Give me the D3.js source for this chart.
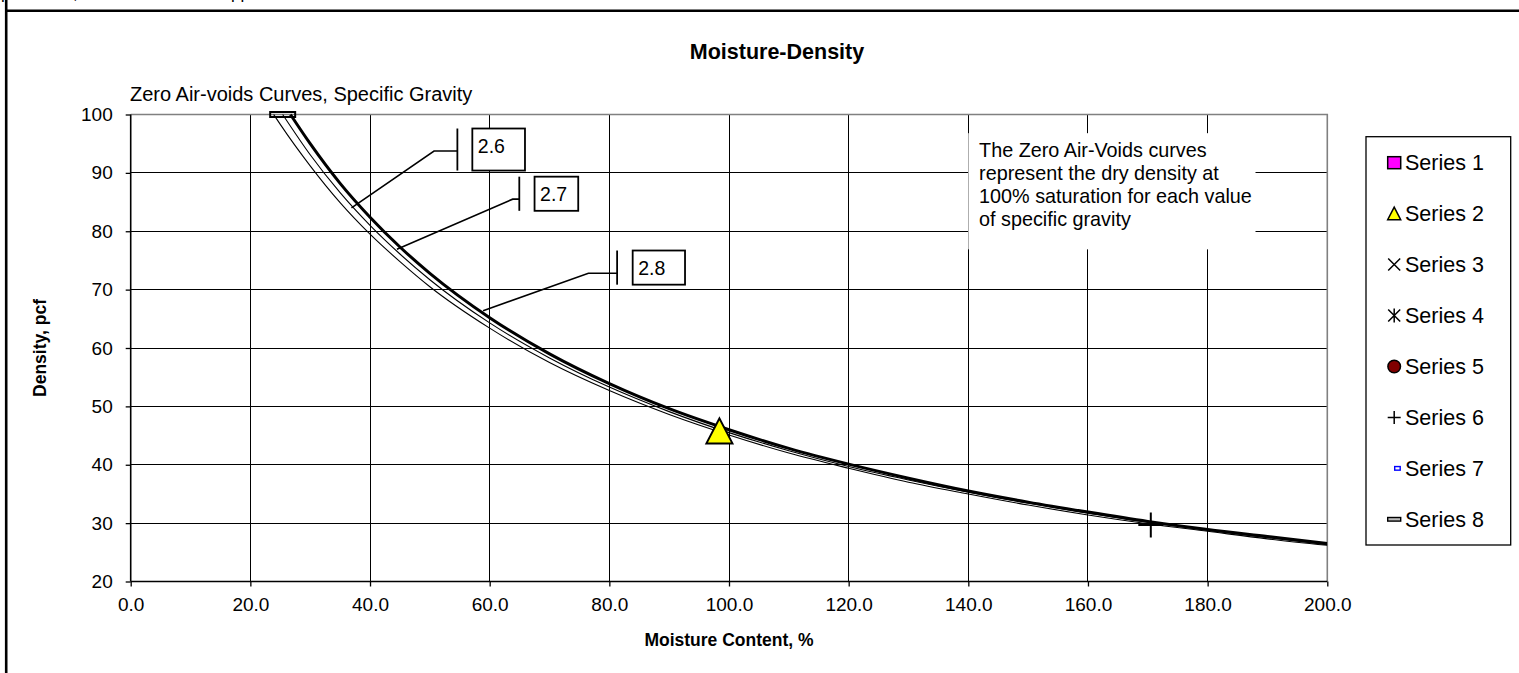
<!DOCTYPE html>
<html><head><meta charset="utf-8">
<script src="https://cdn.jsdelivr.net/npm/d3@7"></script>
<style>
body{margin:0;background:#fff;overflow:hidden}
svg{display:block}
text{font-family:"Liberation Sans",Arial,sans-serif;fill:#000}
</style>
</head><body>
<svg id="chart" width="1519" height="673"></svg>
<script>
// ---------- data ----------
const xTickValues = [0,20,40,60,80,100,120,140,160,180,200];
const yTickValues = [20,30,40,50,60,70,80,90,100];

const zavMoisture26 = [23.9,25,30,35,40,45,50,60,70,80,90,100,110,120,130,140,150,160,170,180,190,200];
const zavDensity26  = [100,98.3,91.2,84.9,79.5,74.8,70.5,63.4,57.5,52.7,48.6,45.1,42.0,39.4,37.0,35.0,33.1,31.4,29.9,28.6,27.3,26.2];
const zavMoisture27 = [25.4,30,35,40,45,50,60,70,80,90,100,110,120,130,140,150,160,170,180,190,200];
const zavDensity27  = [100,93.1,86.6,81.0,76.1,71.7,64.3,58.3,53.3,49.1,45.5,42.4,39.7,37.4,35.3,33.4,31.7,30.1,28.8,27.5,26.3];
const zavMoisture28 = [26.7,30,35,40,45,50,60,70,80,90,100,110,120,130,140,150,160,170,180,190,200];
const zavDensity28  = [100,95.0,88.2,82.4,77.3,72.8,65.2,59.0,53.9,49.6,46.0,42.8,40.1,37.7,35.5,33.6,31.9,30.3,28.9,27.7,26.5];

const series2Points = [[98.4,45.8]];   // triangle
const series6Points = [[170.5,29.7]];  // plus
const series8Points = [[25.4,100]];    // dash marker

const legendNames = ["Series 1","Series 2","Series 3","Series 4","Series 5","Series 6","Series 7","Series 8"];
const legendSymbols = ["square","triangle","x","star","circle","plus","smalldash","dash"];

const gravityLabels = ["2.6","2.7","2.8"];
// annotation geometry in data units: box [x0,x1,yTop,yBottom], bar x, elbow [x,y], target [x,y]
const gravityBoxes  = [[57.1,65.9,97.6,90.4],[67.5,74.8,89.35,83.5],[83.9,92.65,76.7,70.85]];
const gravityBars   = [54.6,64.95,81.3];
const gravityElbows = [[50.7,93.75],[63.85,85.5],[76.5,72.8]];
const gravityTargets= [[36.9,84.0],[44.5,76.9],[58.9,66.4]];

const noteLines = ["The Zero Air-Voids curves","represent the dry density at","100% saturation for each value","of specific gravity"];

// ---------- drawing ----------
const svg = d3.select("#chart");
svg.append("rect").attr("width",1519).attr("height",673).attr("fill","#fff");

// page fragments at top (text of the page above, cut by the frame)
const frag = svg.append("g").attr("font-size",17);
frag.append("text").attr("x",1).attr("y",-1).text("p");
frag.append("text").attr("x",73).attr("y",-1).text(",");
frag.append("text").attr("x",231).attr("y",-1).text("pp");
svg.append("line").attr("x1",6.2).attr("x2",6.2).attr("y1",0).attr("y2",673).attr("stroke","#000").attr("stroke-width",2.6);
svg.append("line").attr("x1",5).attr("x2",1519).attr("y1",10.7).attr("y2",10.7).attr("stroke","#000").attr("stroke-width",2.6);

const x = d3.scaleLinear().domain([0,200]).range([130.7,1327.3]);
const y = d3.scaleLinear().domain([20,100]).range([581.5,114.5]);

// gridlines
const grid = svg.append("g").attr("shape-rendering","crispEdges");
grid.selectAll(".vg").data(xTickValues.filter(d=>d>0&&d<200)).enter().append("line")
  .attr("x1",d=>x(d)).attr("x2",d=>x(d)).attr("y1",y(20)).attr("y2",y(100))
  .attr("stroke","#000").attr("stroke-width",1);
grid.selectAll(".hg").data(yTickValues.filter(d=>d>20&&d<100)).enter().append("line")
  .attr("x1",x(0)).attr("x2",x(200)).attr("y1",d=>y(d)).attr("y2",d=>y(d))
  .attr("stroke","#000").attr("stroke-width",1);
// plot border top/right (gray)
svg.append("path").attr("d",`M${x(0)},${y(100)}H${x(200)}V${y(20)}`).attr("fill","none")
  .attr("stroke","#808080").attr("stroke-width",1.6);

// note box (white, hides gridlines)
const nb = svg.append("g");
nb.append("rect").attr("x",x(140)).attr("y",y(96.8)).attr("width",x(188)-x(140)).attr("height",y(76.9)-y(96.8)).attr("fill","#fff");
nb.append("text").attr("font-size",19.8).selectAll("tspan").data(noteLines).enter().append("tspan")
  .attr("x",x(141.8)).attr("y",(d,i)=>157.3+i*22.9).text(d=>d);

// axes
const yAxis = d3.axisLeft(y).tickValues(yTickValues).tickSize(5).tickPadding(13).tickFormat(d3.format("d"));
const xAxis = d3.axisBottom(x).tickValues(xTickValues).tickSize(5).tickPadding(11).tickFormat(d3.format(".1f"));
const gy = svg.append("g").attr("transform",`translate(${x(0)},0)`).call(yAxis);
const gx = svg.append("g").attr("transform",`translate(0,${y(20)})`).call(xAxis);
[gy,gx].forEach(g=>{
  g.select(".domain").attr("stroke","#000").attr("stroke-width",1.6);
  g.selectAll(".tick line").attr("stroke","#000").attr("stroke-width",1.3);
  g.selectAll(".tick text").attr("font-size",19).attr("font-family","Liberation Sans, Arial, sans-serif").attr("fill","#000");
});
gy.select(".domain").attr("d",`M0,${y(100)}V${y(20)}`);
gx.select(".domain").attr("d",`M${x(0)},0H${x(200)}`);

// clip
svg.append("clipPath").attr("id","clip").append("rect")
  .attr("x",x(0)).attr("y",y(100)-3).attr("width",x(200)-x(0)).attr("height",y(20)-y(100)+3);

const line = d3.line().x(d=>x(d[0])).y(d=>y(d[1])).curve(d3.curveMonotoneX);
const curves = [
  {m:zavMoisture26,d:zavDensity26,w:1.1},
  {m:zavMoisture27,d:zavDensity27,w:1.1},
  {m:zavMoisture28,d:zavDensity28,w:3}
];
const cg = svg.append("g").attr("clip-path","url(#clip)");
curves.forEach(c=>{
  cg.append("path").attr("d",line(c.m.map((v,i)=>[v,c.d[i]])))
    .attr("fill","none").attr("stroke","#000").attr("stroke-width",c.w).attr("stroke-linejoin","round");
});

// series 8 dash marker
svg.selectAll(".s8").data(series8Points).enter().append("rect")
  .attr("x",d=>x(d[0])-12.5).attr("y",d=>y(d[1])-2.5).attr("width",25).attr("height",5)
  .attr("fill","none").attr("stroke","#000").attr("stroke-width",2);

// series 2 triangle
svg.selectAll(".s2").data(series2Points).enter().append("path")
  .attr("d",d=>{const cx=x(d[0]),cy=y(d[1]);return `M${cx},${cy-12.5}L${cx+13},${cy+12.5}L${cx-13},${cy+12.5}Z`;})
  .attr("fill","#ffff00").attr("stroke","#000").attr("stroke-width",2).attr("stroke-linejoin","miter");

// series 6 plus
svg.selectAll(".s6").data(series6Points).enter().append("path")
  .attr("d",d=>{const cx=x(d[0]),cy=y(d[1]);return `M${cx-12.5},${cy}H${cx+12.5}M${cx},${cy-12.5}V${cy+12.5}`;})
  .attr("stroke","#000").attr("stroke-width",2);

// gravity callouts
const ann = svg.append("g");
gravityLabels.forEach((lab,i)=>{
  const b = gravityBoxes[i], bx = gravityBars[i], e = gravityElbows[i], t = gravityTargets[i];
  ann.append("line").attr("x1",x(bx)).attr("x2",x(bx)).attr("y1",y(b[2])).attr("y2",y(b[3]))
    .attr("stroke","#000").attr("stroke-width",1.8);
  ann.append("path").attr("d",`M${x(bx)},${y(e[1])}H${x(e[0])}L${x(t[0])},${y(t[1])}`)
    .attr("fill","none").attr("stroke","#000").attr("stroke-width",1.6);
  ann.append("rect").attr("x",x(b[0])).attr("y",y(b[2])).attr("width",x(b[1])-x(b[0])).attr("height",y(b[3])-y(b[2]))
    .attr("fill","#fff").attr("stroke","#000").attr("stroke-width",1.8);
  ann.append("text").attr("x",x(b[0])+5.5).attr("y",y(b[2])+24).attr("font-size",19.5).text(lab);
});

// titles
svg.append("text").attr("x",777).attr("y",59).attr("text-anchor","middle").attr("font-size",21.5).attr("font-weight","bold").text("Moisture-Density");
svg.append("text").attr("x",130).attr("y",101).attr("font-size",20).text("Zero Air-voids Curves, Specific Gravity");
svg.append("text").attr("x",(x(0)+x(200))/2).attr("y",646).attr("text-anchor","middle").attr("font-size",17.5).attr("font-weight","bold").text("Moisture Content, %");
svg.append("text").attr("transform",`translate(46,${(y(20)+y(100))/2}) rotate(-90)`).attr("text-anchor","middle").attr("font-size",17.5).attr("font-weight","bold").text("Density, pcf");

// legend
const lg = svg.append("g");
lg.append("rect").attr("x",1366).attr("y",136.7).attr("width",144.7).attr("height",408.3)
  .attr("fill","#fff").attr("stroke","#000").attr("stroke-width",1.3);
const ly = d3.scaleLinear().domain([0,7]).range([162.7,519.3]);
const mx = 1394.2;
legendNames.forEach((name,i)=>{
  const cy = ly(i), s = legendSymbols[i];
  const g = lg.append("g");
  if(s==="square") g.append("rect").attr("x",mx-6.5).attr("y",cy-6).attr("width",13).attr("height",12).attr("fill","#ff00ff").attr("stroke","#000").attr("stroke-width",1.5);
  if(s==="triangle") g.append("path").attr("d",`M${mx},${cy-6.5}L${mx+6.5},${cy+6}L${mx-6.5},${cy+6}Z`).attr("fill","#ffff00").attr("stroke","#000").attr("stroke-width",1.5);
  if(s==="x") g.append("path").attr("d",`M${mx-6},${cy-6}L${mx+6},${cy+6}M${mx+6},${cy-6}L${mx-6},${cy+6}`).attr("stroke","#000").attr("stroke-width",1.5);
  if(s==="star") g.append("path").attr("d",`M${mx-6},${cy-6}L${mx+6},${cy+6}M${mx+6},${cy-6}L${mx-6},${cy+6}M${mx},${cy-7}V${cy+7}`).attr("stroke","#000").attr("stroke-width",1.5);
  if(s==="circle") g.append("circle").attr("cx",mx).attr("cy",cy).attr("r",6.3).attr("fill","#800000").attr("stroke","#000").attr("stroke-width",1.5);
  if(s==="plus") g.append("path").attr("d",`M${mx-6.5},${cy}H${mx+6.5}M${mx},${cy-6.5}V${cy+6.5}`).attr("stroke","#000").attr("stroke-width",1.5);
  if(s==="smalldash") g.append("rect").attr("x",mx+0.5).attr("y",cy-1.8).attr("width",5.5).attr("height",3.6).attr("fill","#fff").attr("stroke","#0000ff").attr("stroke-width",1.4);
  if(s==="dash") g.append("rect").attr("x",mx-6.5).attr("y",cy-1.8).attr("width",13).attr("height",3.6).attr("fill","#bbb").attr("stroke","#000").attr("stroke-width",1.4);
  g.append("text").attr("x",1405).attr("y",cy).attr("dy","0.35em").attr("font-size",21.5).text(name);
});
</script>
</body></html>
